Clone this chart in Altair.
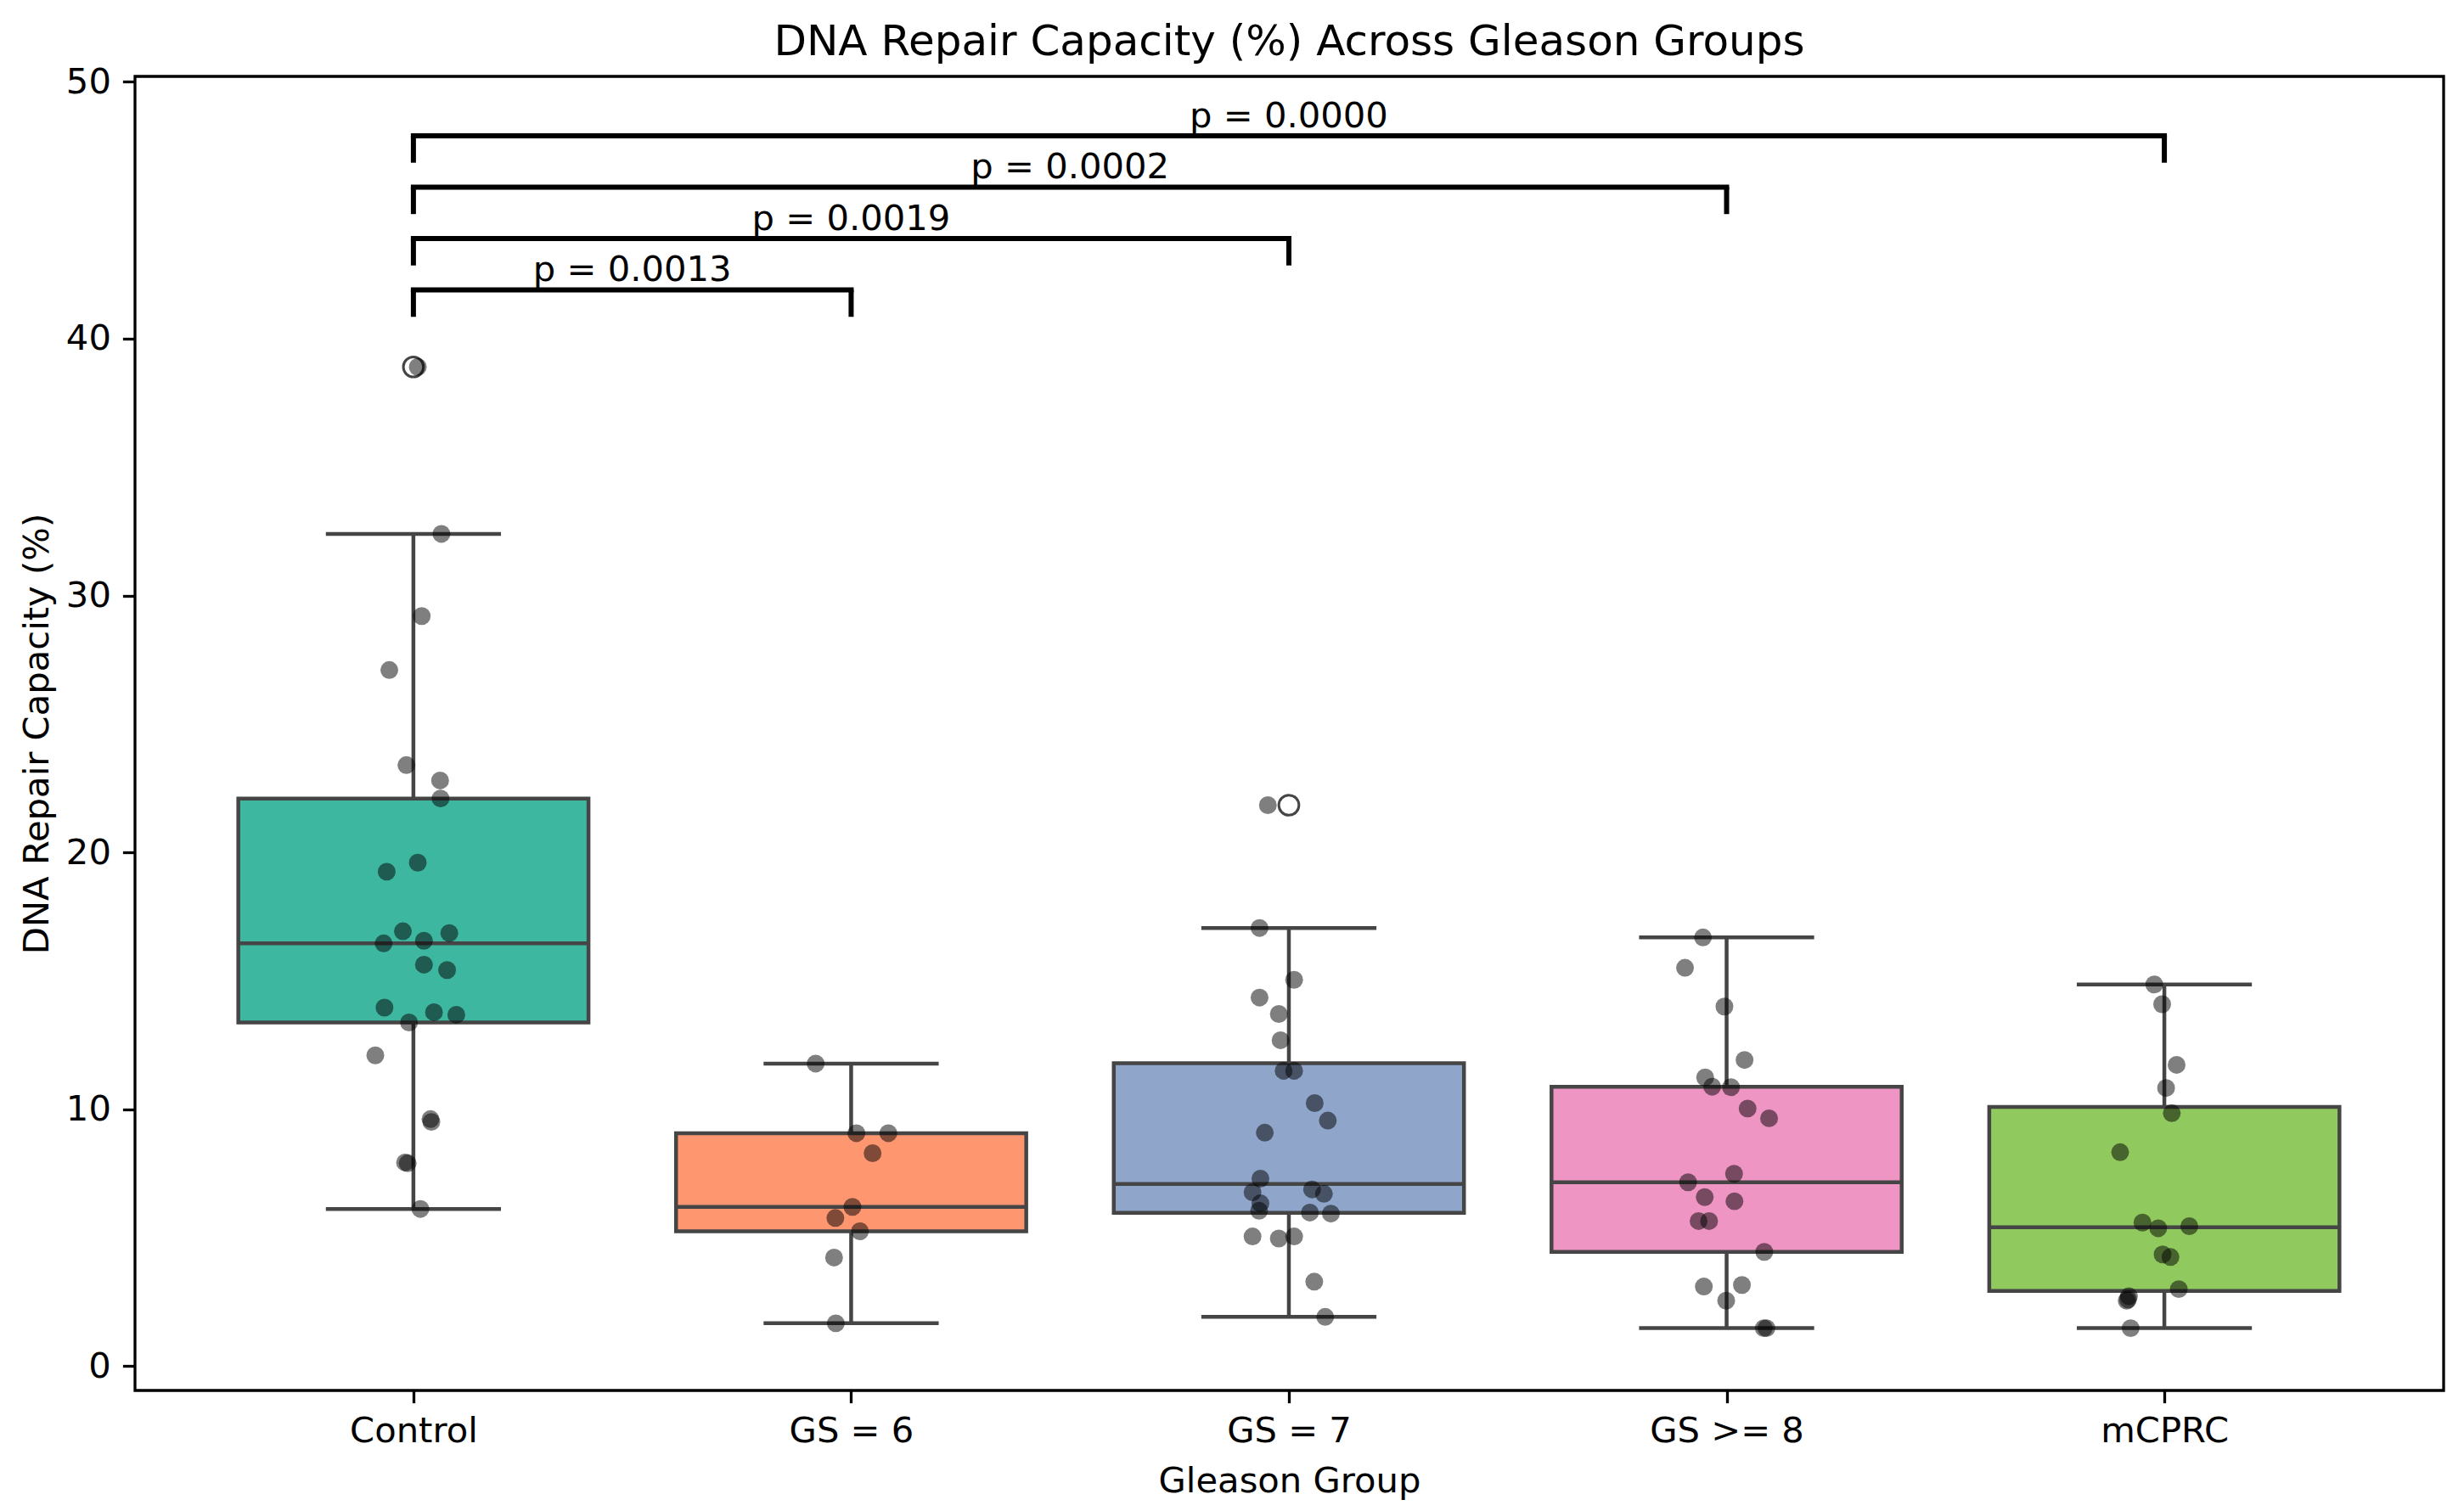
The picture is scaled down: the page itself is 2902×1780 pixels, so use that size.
import altair as alt
import numpy as np
import pandas as pd

# ---------------- data ----------------
categories = ["Control", "GS = 6", "GS = 7", "GS >= 8", "mCPRC"]
box_colors = ["#3eb7a0", "#fe9670", "#8fa5c9", "#ef95c3", "#90c95d"]

control_vals = [38.9, 32.4, 29.2, 27.1, 23.4, 22.8, 22.1, 19.6, 19.25, 16.93,
                16.86, 16.46, 16.56, 15.63, 15.42, 13.96, 13.78, 13.68, 13.38,
                12.1, 9.62, 9.51, 7.93, 7.90, 6.12]
control_jitter = [0.01, 0.064, 0.019, -0.055, -0.016, 0.061, 0.062, 0.01, -0.061,
                  -0.024, 0.082, -0.068, 0.024, 0.024, 0.077, -0.066, 0.047, 0.098,
                  -0.01, -0.087, 0.039, 0.041, -0.019, -0.013, 0.016]

gs6_vals = [11.78, 9.07, 9.07, 8.29, 6.2, 5.77, 5.25, 4.23, 1.67]
gs6_jitter = [-0.081, 0.012, 0.085, 0.049, 0.003, -0.036, 0.02, -0.039, -0.035]

gs7_vals = [21.84, 17.06, 15.04, 14.35, 13.71, 12.69, 11.50, 11.50, 10.24, 9.56,
            9.09, 7.30, 6.88, 6.77, 6.71, 6.34, 6.05, 5.98, 5.94, 5.05, 4.97,
            5.05, 3.29, 1.92]
gs7_jitter = [-0.048, -0.067, 0.012, -0.067, -0.023, -0.019, -0.012, 0.012, 0.059,
              0.089, -0.055, -0.065, 0.053, -0.083, 0.08, -0.065, -0.068, 0.048,
              0.096, -0.083, -0.023, 0.012, 0.058, 0.083]

gs8_vals = [16.69, 15.51, 14.0, 11.92, 11.24, 10.88, 10.86, 10.03, 9.65, 7.49,
            7.16, 6.58, 6.42, 5.65, 5.65, 4.45, 3.10, 3.16, 2.55, 1.48, 1.48]
gs8_jitter = [-0.054, -0.095, -0.005, 0.041, -0.049, -0.033, 0.01, 0.048, 0.097,
              0.017, -0.088, -0.05, 0.018, -0.064, -0.04, 0.086, -0.052, 0.035,
              -0.001, 0.085, 0.091]

mcprc_vals = [14.86, 14.09, 11.73, 10.83, 9.85, 8.33, 5.59, 5.37, 5.45, 4.35,
              4.25, 3.0, 2.72, 2.6, 2.55, 1.48]
mcprc_jitter = [-0.023, -0.005, 0.028, 0.004, 0.017, -0.101, -0.05, -0.014, 0.057,
                -0.004, 0.014, 0.033, -0.081, -0.083, -0.086, -0.077]

group_values = [control_vals, gs6_vals, gs7_vals, gs8_vals, mcprc_vals]
group_jitter = [control_jitter, gs6_jitter, gs7_jitter, gs8_jitter, mcprc_jitter]

p_labels = ["p = 0.0013", "p = 0.0019", "p = 0.0002", "p = 0.0000"]
bracket_targets = [1, 2, 3, 4]
bracket_base = [40.85, 42.85, 44.85, 46.85]
bracket_top = [41.9, 43.9, 45.9, 47.9]

title_text = "DNA Repair Capacity (%) Across Gleason Groups"
x_title = "Gleason Group"
y_title = "DNA Repair Capacity (%)"
y_ticks = [0, 10, 20, 30, 40, 50]

# ---------------- tables built from the arrays ----------------
pts, boxes, meds, caps, whisk, fliers = [], [], [], [], [], []
for i, (vals, jit) in enumerate(zip(group_values, group_jitter)):
    v = np.array(vals, dtype=float)
    for val, j in zip(vals, jit):
        pts.append({"x": i + j, "y": val})
    q1, med, q3 = np.percentile(v, [25, 50, 75])
    iqr = q3 - q1
    lo = v[v >= q1 - 1.5 * iqr].min()
    hi = v[v <= q3 + 1.5 * iqr].max()
    boxes.append({"x": i - 0.4, "x2": i + 0.4, "y": q1, "y2": q3, "color": box_colors[i]})
    meds.append({"x": i - 0.4, "x2": i + 0.4, "y": med})
    caps.append({"x": i - 0.2, "x2": i + 0.2, "y": lo})
    caps.append({"x": i - 0.2, "x2": i + 0.2, "y": hi})
    whisk.append({"x": i, "y": q3, "y2": hi})
    whisk.append({"x": i, "y": q1, "y2": lo})
    for f in v[(v < lo) | (v > hi)]:
        fliers.append({"x": i, "y": f})

br_h, br_v, br_t = [], [], []
for t, b0, b1, lab in zip(bracket_targets, bracket_base, bracket_top, p_labels):
    br_h.append({"x": 0, "x2": t, "y": b1})
    br_v.append({"x": 0, "y": b0, "y2": b1})
    br_v.append({"x": t, "y": b0, "y2": b1})
    br_t.append({"x": t / 2, "y": b1, "text": lab})

pts_df = pd.DataFrame(pts)
box_df = pd.DataFrame(boxes)
med_df = pd.DataFrame(meds)
cap_df = pd.DataFrame(caps)
whisk_df = pd.DataFrame(whisk)
flier_df = pd.DataFrame(fliers)
brh_df = pd.DataFrame(br_h)
brv_df = pd.DataFrame(br_v)
brt_df = pd.DataFrame(br_t)
title_df = pd.DataFrame({"text": [title_text]})

# ---------------- encodings ----------------
FONT = "DejaVu Sans"
W, H = 2719, 1548
label_expr = "[" + ",".join("'" + c + "'" for c in categories) + "][datum.value]"

xs = alt.Scale(domain=[-0.636, 4.638], nice=False, zero=False)
ys = alt.Scale(domain=[-0.945, 50.21], nice=False, zero=False)

x_axis = alt.Axis(values=[0, 1, 2, 3, 4], labelExpr=label_expr, labelFlush=False,
                  labelOverlap=False, labelLimit=0, labelPadding=13, title=x_title,
                  titleY=119, titleBaseline="alphabetic")
y_axis = alt.Axis(values=y_ticks, labelPadding=14, title=y_title, titleX=-103,
                  titleY=H / 2, titleAngle=270, titleBaseline="alphabetic",
                  titleAlign="center")

X = alt.X("x:Q", scale=xs, axis=x_axis)
Y = alt.Y("y:Q", scale=ys, axis=y_axis)
X2 = alt.X2("x2:Q")
Y2 = alt.Y2("y2:Q")

EDGE = "#454545"
LW = 4.5

box_layer = alt.Chart(box_df).mark_rect(stroke=EDGE, strokeWidth=LW).encode(
    x=X, x2=X2, y=Y, y2=Y2, color=alt.Color("color:N", scale=None))
whisk_layer = alt.Chart(whisk_df).mark_rule(color=EDGE, strokeWidth=LW).encode(
    x=X, y=Y, y2=Y2)
cap_layer = alt.Chart(cap_df).mark_rule(color=EDGE, strokeWidth=LW).encode(
    x=X, x2=X2, y=Y)
med_layer = alt.Chart(med_df).mark_rule(color=EDGE, strokeWidth=LW).encode(
    x=X, x2=X2, y=Y)
flier_layer = alt.Chart(flier_df).mark_point(shape="circle", filled=False, size=560,
                                             stroke=EDGE, strokeWidth=3,
                                             opacity=1).encode(x=X, y=Y)
pt_layer = alt.Chart(pts_df).mark_circle(size=440, color="black", opacity=0.5).encode(
    x=X, y=Y)
brh_layer = alt.Chart(brh_df).mark_rule(color="black", strokeWidth=6,
                                        strokeCap="square").encode(x=X, x2=X2, y=Y)
brv_layer = alt.Chart(brv_df).mark_rule(color="black", strokeWidth=6,
                                        strokeCap="butt").encode(x=X, y=Y, y2=Y2)
brt_layer = alt.Chart(brt_df).mark_text(font=FONT, fontSize=41.7, color="black",
                                        baseline="alphabetic", align="center",
                                        dy=-10).encode(x=X, y=Y, text="text:N")
title_layer = alt.Chart(title_df).mark_text(font=FONT, fontSize=50, color="black",
                                            baseline="alphabetic", align="center").encode(
    x=alt.value(W / 2), y=alt.value(-25), text="text:N")

chart = alt.layer(
    box_layer, whisk_layer, cap_layer, med_layer, flier_layer, pt_layer,
    brh_layer, brv_layer, brt_layer, title_layer
).properties(
    width=W,
    height=H,
    padding={"left": 151, "top": 82, "right": 14, "bottom": 132},
    autosize=alt.AutoSizeParams(type="none"),
).configure_view(
    stroke="black", strokeWidth=3.3
).configure_axis(
    labelFont=FONT, labelFontSize=41.7, labelColor="black",
    titleFont=FONT, titleFontSize=41.7, titleFontWeight="normal", titleColor="black",
    tickColor="black", tickWidth=3.3, tickSize=14.6, domain=False, grid=False,
)

chart.save("out.html", embed_options={"renderer": "svg", "actions": False})
